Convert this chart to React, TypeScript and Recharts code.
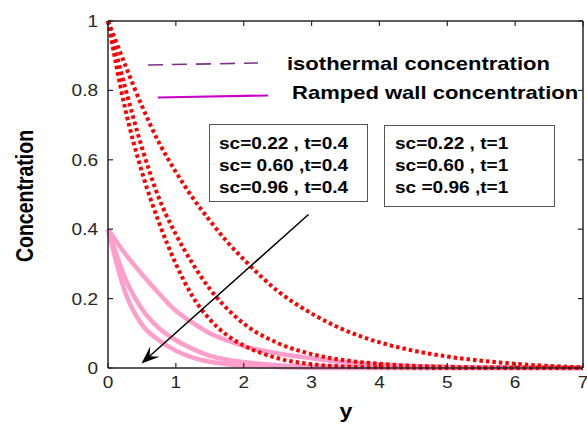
import React from 'react';
import { LineChart, Line, XAxis, YAxis } from 'recharts';

// y positions along the plate
const yPos = [0, 0.25, 0.5, 0.75, 1, 1.25, 1.5, 1.75, 2, 2.5, 3, 3.5, 4, 4.5, 5, 5.5, 6, 6.5, 7];

// isothermal concentration, t=1 (red dotted)
const isoSc022 = [1, 0.875, 0.755, 0.65, 0.565, 0.49, 0.425, 0.365, 0.313, 0.222, 0.157, 0.108, 0.074, 0.05, 0.033, 0.021, 0.012, 0.006, 0.002];
const isoSc060 = [1, 0.81, 0.635, 0.49, 0.385, 0.3, 0.228, 0.172, 0.128, 0.072, 0.04, 0.022, 0.012, 0.006, 0.003, 0.0015, 0.001, 0.0005, 0];
const isoSc096 = [1, 0.75, 0.565, 0.42, 0.3, 0.205, 0.14, 0.095, 0.065, 0.028, 0.011, 0.004, 0.002, 0.001, 0, 0, 0, 0, 0];

// ramped wall concentration, t=0.4 (pink solid)
const rampSc022 = [0.4, 0.33, 0.27, 0.215, 0.165, 0.13, 0.1, 0.08, 0.063, 0.042, 0.028, 0.016, 0.01, 0.006, 0.004, 0.002, 0.001, 0.0005, 0];
const rampSc060 = [0.4, 0.26, 0.17, 0.115, 0.08, 0.055, 0.035, 0.024, 0.017, 0.008, 0.004, 0.002, 0.001, 0, 0, 0, 0, 0, 0];
const rampSc096 = [0.4, 0.22, 0.125, 0.08, 0.05, 0.03, 0.018, 0.011, 0.007, 0.003, 0.001, 0, 0, 0, 0, 0, 0, 0, 0];

const xTicks = [0, 1, 2, 3, 4, 5, 6, 7];
const yTicks = [0, 0.2, 0.4, 0.6, 0.8, 1];

const boxLeft = ['sc=0.22 , t=0.4', 'sc= 0.60 ,t=0.4', 'sc=0.96 , t=0.4'];
const boxRight = ['sc=0.22 , t=1', 'sc=0.60 , t=1', 'sc =0.96 ,t=1'];

const data = yPos.map((y, i) => ({
  y,
  c1: isoSc022[i],
  c2: isoSc060[i],
  c3: isoSc096[i],
  r1: rampSc022[i],
  r2: rampSc060[i],
  r3: rampSc096[i],
}));

const W = 587;
const H = 424;
const M = { top: 21, right: 4, bottom: 0, left: 0 };
const Y_AXIS_W = 108;
const X_AXIS_H = 56;
// plot box, same numbers the chart uses for its layout
const PL = M.left + Y_AXIS_W;
const PR = W - M.right;
const PT = M.top;
const PB = H - M.bottom - X_AXIS_H;

const FONT = '"Liberation Sans", Arial, Helvetica, sans-serif';
const SX = 1.19; // the figure is a bit stretched sideways
const AX = '#262626';
const RED = '#ff0000';
const PINK = '#ff9dcb';
const TICK = 5;

const XTick = ({ x, y, payload }: any) => (
  <text transform={`translate(${x},${y + 15}) scale(${SX},1)`} textAnchor="middle" fontSize={16} fill={AX} fontFamily={FONT}>
    {payload.value}
  </text>
);

const YTick = ({ x, y, payload }: any) => (
  <text transform={`translate(${x},${y + 6}) scale(${SX},1)`} textAnchor="end" fontSize={16} fill={AX} fontFamily={FONT}>
    {payload.value}
  </text>
);

const SText = ({ x, y, size, children, anchor = 'start', rotate = 0 }: any) => (
  <text
    transform={`translate(${x},${y}) scale(${SX},1)${rotate ? ` rotate(${rotate})` : ''}`}
    textAnchor={anchor}
    fontSize={size}
    fontWeight="bold"
    fill="#000"
    fontFamily={FONT}
    xmlSpace="preserve"
  >
    {children}
  </text>
);

const Arrow = ({ x1, y1, x2, y2 }: any) => {
  const dx = x2 - x1;
  const dy = y2 - y1;
  const len = Math.hypot(dx, dy);
  const ux = dx / len;
  const uy = dy / len;
  const nx = -uy;
  const ny = ux;
  const L = 18;
  const HW = 7;
  const pts = [
    [x2, y2],
    [x2 - ux * L + nx * HW, y2 - uy * L + ny * HW],
    [x2 - ux * L * 0.6, y2 - uy * L * 0.6],
    [x2 - ux * L - nx * HW, y2 - uy * L - ny * HW],
  ]
    .map((p) => p.join(','))
    .join(' ');
  return (
    <g>
      <line x1={x1} y1={y1} x2={x2 - ux * L * 0.6} y2={y2 - uy * L * 0.6} stroke="#000" strokeWidth={1.5} />
      <polygon points={pts} fill="#000" />
    </g>
  );
};

// MATLAB box: full frame with inward ticks on all four sides
const Frame = () => {
  const px = (v: number) => PL + (v / 7) * (PR - PL);
  const py = (v: number) => PB - v * (PB - PT);
  return (
    <g>
      <line x1={PL} y1={PT} x2={PR} y2={PT} stroke={AX} strokeWidth={1.5} />
      <line x1={PR} y1={PT} x2={PR} y2={PB} stroke={AX} strokeWidth={1.5} />
      <line x1={PL} y1={PB} x2={PR} y2={PB} stroke={AX} strokeWidth={1.5} />
      <line x1={PL} y1={PT} x2={PL} y2={PB} stroke={AX} strokeWidth={1.5} />
      {xTicks.map((v) => (
        <g key={`x${v}`}>
          <line x1={px(v)} y1={PB} x2={px(v)} y2={PB - TICK} stroke={AX} strokeWidth={1.2} />
          <line x1={px(v)} y1={PT} x2={px(v)} y2={PT + TICK} stroke={AX} strokeWidth={1.2} />
        </g>
      ))}
      {yTicks.map((v) => (
        <g key={`y${v}`}>
          <line x1={PL} y1={py(v)} x2={PL + TICK} y2={py(v)} stroke={AX} strokeWidth={1.2} />
          <line x1={PR} y1={py(v)} x2={PR - TICK} y2={py(v)} stroke={AX} strokeWidth={1.2} />
        </g>
      ))}
    </g>
  );
};

export default function App() {
  return (
    <div style={{ position: 'absolute', left: 0, top: 0, width: W, height: H, background: '#fff' }}>
      <LineChart width={W} height={H} data={data} margin={M}>
        <XAxis
          dataKey="y"
          type="number"
          domain={[0, 7]}
          ticks={xTicks}
          interval={0}
          height={X_AXIS_H}
          tickSize={0}
          tickMargin={5}
          axisLine={false}
          tickLine={false}
          tick={<XTick />}
        />
        <YAxis
          type="number"
          domain={[0, 1]}
          ticks={yTicks}
          interval={0}
          width={Y_AXIS_W}
          tickSize={0}
          tickMargin={10}
          axisLine={false}
          tickLine={false}
          tick={<YTick />}
        />
        <Line dataKey="r1" type="monotone" stroke={PINK} strokeWidth={4.5} dot={false} isAnimationActive={false} />
        <Line dataKey="r2" type="monotone" stroke={PINK} strokeWidth={4.5} dot={false} isAnimationActive={false} />
        <Line dataKey="r3" type="monotone" stroke={PINK} strokeWidth={4.5} dot={false} isAnimationActive={false} />
        <Line dataKey="c1" type="monotone" stroke={RED} strokeWidth={4} strokeDasharray="3.5 3" dot={false} isAnimationActive={false} />
        <Line dataKey="c2" type="monotone" stroke={RED} strokeWidth={4} strokeDasharray="3.5 3" dot={false} isAnimationActive={false} />
        <Line dataKey="c3" type="monotone" stroke={RED} strokeWidth={4} strokeDasharray="3.5 3" dot={false} isAnimationActive={false} />
      </LineChart>
      <svg width={W} height={H} style={{ position: 'absolute', left: 0, top: 0, pointerEvents: 'none' }}>
        <Frame />

        {/* legend-like labels */}
        <line x1={148} y1={65} x2={258} y2={63} stroke="#7e2f8e" strokeWidth={1.6} strokeDasharray="15 9" />
        <line x1={158} y1={97.5} x2={268} y2={95.5} stroke="#c800c8" strokeWidth={2.2} />
        <SText x={287} y={70} size={18.5}>isothermal concentration</SText>
        <SText x={292} y={99} size={18.5}>Ramped wall concentration</SText>

        <rect x={209.5} y={124.5} width={158} height={77} fill="none" stroke="#555" strokeWidth={1} />
        {boxLeft.map((t, i) => (
          <SText key={t} x={219} y={148.5 + i * 22} size={16}>{t}</SText>
        ))}
        <rect x={384.5} y={125.5} width={170} height={81} fill="none" stroke="#555" strokeWidth={1} />
        {boxRight.map((t, i) => (
          <SText key={t} x={395} y={148.5 + i * 22} size={16}>{t}</SText>
        ))}

        <Arrow x1={308.5} y1={214.5} x2={141.5} y2={363.5} />

        <SText x={33} y={196} size={19.5} anchor="middle" rotate={-90}>Concentration</SText>
        <SText x={346} y={418} size={19.5} anchor="middle">y</SText>
      </svg>
    </div>
  );
}
